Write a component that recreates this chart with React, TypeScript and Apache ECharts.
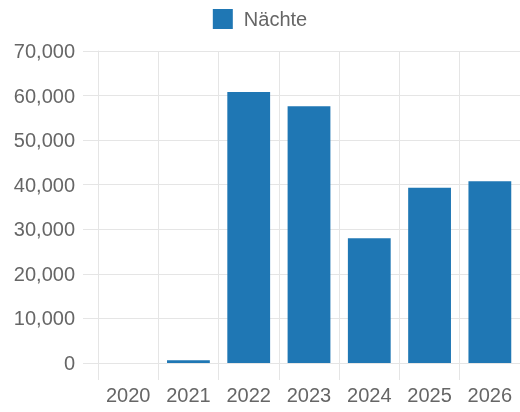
import React, { useEffect, useRef } from "react";
import * as echarts from "echarts";

const categories = ["2020", "2021", "2022", "2023", "2024", "2025", "2026"];
const seriesName = "Nächte";
const naechte = [0, 600, 60800, 57600, 28000, 39300, 40800];
const yMin = 0;
const yMax = 70000;
const yStep = 10000;

const FONT = "'Liberation Sans', Arial, Helvetica, sans-serif";
const TEXT = "#666666";
const GRID = "#e5e5e5";
const BLUE = "#1f77b4";

export default function App() {
  const ref = useRef<HTMLDivElement>(null);
  useEffect(() => {
    if (!ref.current) return;
    const chart = echarts.init(ref.current, undefined, { renderer: "svg" });
    chart.setOption({
      animation: false,
      textStyle: { fontFamily: FONT },
      legend: {
        data: [seriesName],
        top: 4,
        left: "center",
        icon: "rect",
        itemWidth: 20,
        itemHeight: 20,
        itemGap: 10,
        textStyle: { fontSize: 20, color: TEXT, fontFamily: FONT, padding: [0, 0, 0, 6] },
      },
      grid: { left: 98, right: -3, top: 51, bottom: 49, containLabel: false },
      xAxis: {
        type: "category",
        data: categories,
        boundaryGap: true,
        axisLine: { show: true, lineStyle: { color: GRID, width: 1 } },
        axisTick: { show: true, length: 17, alignWithLabel: false, lineStyle: { color: GRID } },
        splitLine: { show: true, lineStyle: { color: GRID, width: 1 } },
        axisLabel: { fontSize: 20, color: TEXT, margin: 22, fontFamily: FONT },
      },
      yAxis: {
        type: "value",
        min: yMin,
        max: yMax,
        interval: yStep,
        axisLine: { show: true, lineStyle: { color: GRID, width: 1 } },
        axisTick: { show: true, length: 15, lineStyle: { color: GRID } },
        splitLine: { show: true, lineStyle: { color: GRID, width: 1 } },
        axisLabel: {
          fontSize: 20,
          color: TEXT,
          margin: 23,
          fontFamily: FONT,
          formatter: (v: number) => v.toLocaleString("en-US"),
        },
      },
      series: [
        {
          name: seriesName,
          type: "bar",
          data: naechte,
          barWidth: "71%",
          itemStyle: { color: BLUE },
        },
      ],
    });
    return () => chart.dispose();
  }, []);
  return (
    <div
      ref={ref}
      style={{ position: "fixed", left: 0, top: 0, width: 520, height: 412 }}
    />
  );
}
